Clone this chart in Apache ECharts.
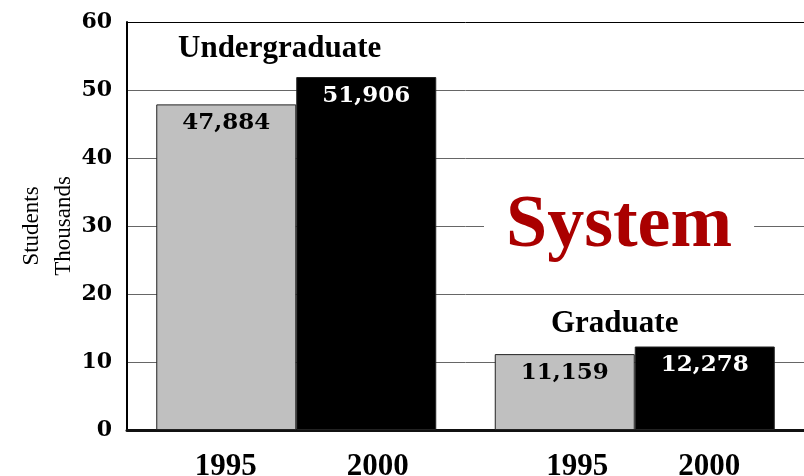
<!DOCTYPE html>
<html>
<head>
<meta charset="utf-8">
<script src="https://cdn.jsdelivr.net/npm/echarts@6/dist/echarts.min.js"></script>
<style>
  html, body { margin: 0; padding: 0; background: #fff; }
  #chart { width: 804px; height: 476px; }
</style>
</head>
<body>
<div id="chart"></div>
<script>
// data
const groups = ['Undergraduate', 'Graduate']
const years = ['1995', '2000']
const students1995 = [47884, 11159]
const students2000 = [51906, 12278]
const yTicks = [0, 10, 20, 30, 40, 50, 60]

const chart = echarts.init(document.getElementById('chart'), null, { renderer: 'canvas' })

const fmt = v => v.toLocaleString('en-US')
const serif = 'Liberation Serif'
const boldNum = 'DejaVu Serif'
const yearFont = { align: 'center', fontFamily: serif, fontWeight: 'bold', fontSize: 31, color: '#000' }

function barSeries(name, values, color, textColor) {
    return {
        name,
        type: 'bar',
        barWidth: 140,
        barGap: '0%',
        data: values.map(v => ({ value: v / 1000, raw: v })),
        itemStyle: {
            color,
            borderColor: '#222',
            borderWidth: 1
        },
        label: {
            show: true,
            position: 'insideTop',
            distance: 7,
            color: textColor,
            fontFamily: boldNum,
            fontWeight: 'bold',
            fontSize: 23,
            formatter: p => fmt(p.data.raw)
        }
    }
}

const option = {
    animation: false,
    backgroundColor: '#fff',
    grid: { left: 127, right: 0, top: 22, bottom: 46, outerBoundsMode: 'none', containLabel: false },
    xAxis: {
        type: 'category',
        data: groups,
        axisLine: { lineStyle: { color: '#111', width: 3 } },
        axisTick: { show: false },
        axisLabel: {
            margin: 21,
            // year labels under each bar of the group
            formatter: (v, i) => i === 0
                ? '{p1|}{a1|' + years[0] + '}{a1|' + years[1] + '}'
                : '{p2|}{a2|' + years[0] + '}{a2|' + years[1] + '}',
            rich: {
                p1: { width: 11 },
                p2: { width: 17 },
                a1: Object.assign({ width: 152 }, yearFont),
                a2: Object.assign({ width: 132 }, yearFont)
            }
        }
    },
    yAxis: {
        type: 'value',
        min: yTicks[0],
        max: yTicks[yTicks.length - 1],
        interval: 10,
        name: 'Students\nThousands',
        nameLocation: 'middle',
        nameGap: 47,
        nameMoveOverlap: false,
        nameTextStyle: { fontFamily: serif, fontSize: 23, lineHeight: 32, color: '#000' },
        axisLine: { show: true, lineStyle: { color: '#000', width: 2 } },
        axisTick: { show: false },
        axisLabel: {
            margin: 15,
            fontFamily: boldNum,
            fontWeight: 'bold',
            fontSize: 22,
            color: '#000'
        },
        splitLine: {
            lineStyle: { color: ['#666', '#666', '#666', '#666', '#666', '#666', '#000'], width: 1 }
        }
    },
    graphic: [
        {
            type: 'text', z: 100, left: 178, top: 33,
            style: { text: 'Undergraduate', fill: '#000', font: 'bold 31px "Liberation Serif"' }
        },
        {
            type: 'text', z: 100, left: 551, top: 308,
            style: { text: 'Graduate', fill: '#000', font: 'bold 31px "Liberation Serif"' }
        },
        {
            type: 'text', z: 100, left: 484, top: 186,
            style: {
                text: 'System', fill: '#aa0000', font: 'bold 74px "Liberation Serif"',
                backgroundColor: '#fff', padding: [4, 22, 4, 22]
            }
        }
    ],
    series: [
        barSeries(years[0], students1995, '#c0c0c0', '#000'),
        barSeries(years[1], students2000, '#000', '#fff')
    ]
}

chart.setOption(option)
</script>
</body>
</html>
